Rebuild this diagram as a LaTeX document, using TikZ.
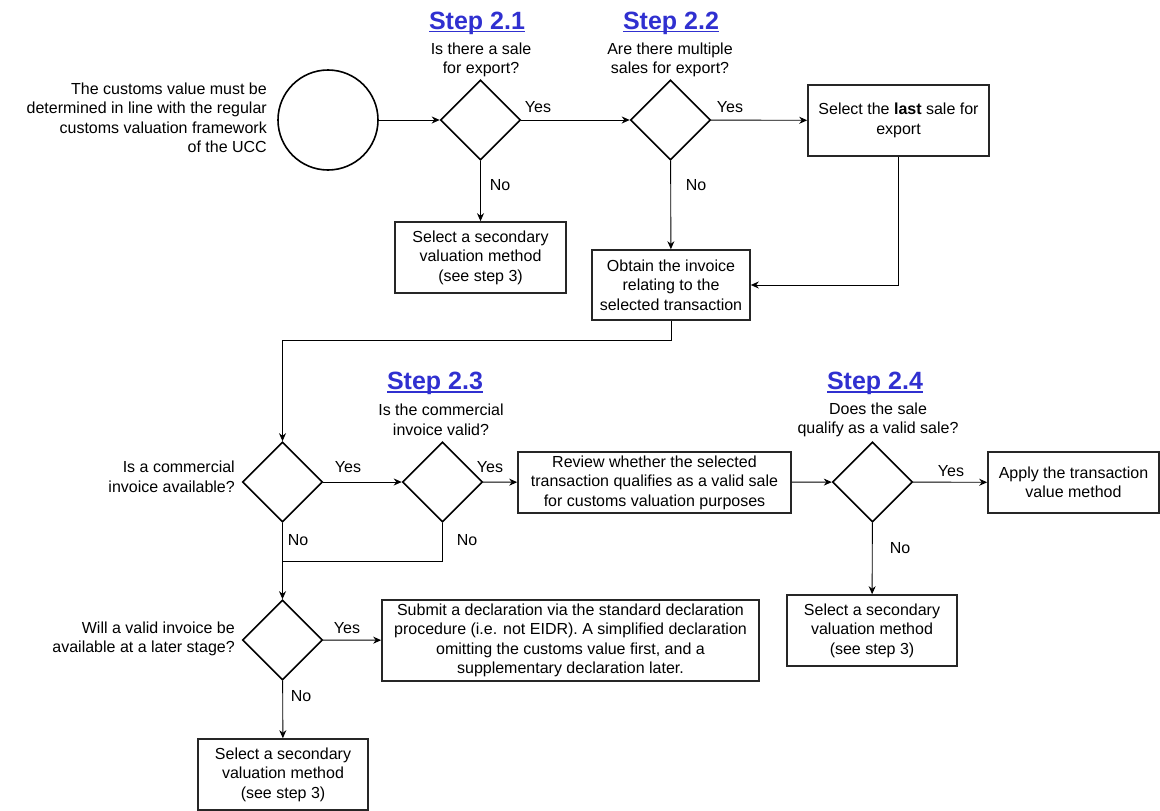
\documentclass[tikz,border=0pt]{standalone}
\usepackage{fontspec}
\setmainfont{Liberation Sans}
\usetikzlibrary{arrows.meta,shapes.geometric}
\definecolor{steplink}{RGB}{48,48,208}
\def\steplabel#1{\setbox0\hbox{#1}\rlap{\rule[-3.5pt]{\wd0}{1.8pt}}\box0}

\begin{document}
\begin{tikzpicture}[x=1pt, y=-1pt,
		txt/.style={font=\fontsize{16}{19.5}\selectfont, align=center, inner sep=1pt},
		steptitle/.style={font=\fontsize{25}{30}\selectfont\bfseries, text=steplink, anchor=base, inner sep=0pt},
		procbox/.style 2 args={txt, draw=black!85, line width=1.6pt, minimum width=#1, minimum height=#2},
		decision/.style={draw, diamond, line width=1.6pt, minimum width=80, minimum height=80, inner sep=0pt},
		flow/.style={-{Stealth[length=8pt,width=7pt]}, line width=0.9pt},
		plain/.style={line width=0.9pt}]
		%%%%% START %%%%%
		\useasboundingbox (0,0) rectangle (1160,811);
		
		\node[steptitle] (s21) at (477,29) {\steplabel{Step 2.1}};
		\node[steptitle] (s22) at (671,29) {\steplabel{Step 2.2}};
		\node[steptitle] (s23) at (435,389) {\steplabel{Step 2.3}};
		\node[steptitle] (s24) at (875,389) {\steplabel{Step 2.4}};
		
		\node[txt] (q21) at (481,60) {Is there a sale\\for export?};
		\node[txt] (q22) at (670,60) {Are there multiple\\sales for export?};
		\node[txt] (q23) at (441,420) {Is the commercial\\invoice valid?};
		\node[txt] (q24) at (878,420) {Does the sale\\qualify as a valid sale?};
		
		\node[txt, align=right, anchor=east] (intro) at (268,118) {The customs value must be\\determined in line with the regular\\customs valuation framework\\of the UCC};
		\node[draw, circle, line width=1.6pt, minimum size=100, inner sep=0pt] (start) at (328,120) {};
		
		\node[decision] (d1) at (480.5,120) {};
		\node[decision] (d2) at (670.5,120) {};
		\node[decision] (d3) at (282.5,482) {};
		\node[decision] (d4) at (442.5,482) {};
		\node[decision] (d5) at (872.5,482) {};
		\node[decision] (d6) at (282.5,640) {};
		
		\node[txt, align=right, anchor=east] (q3) at (236,477) {Is a commercial\\invoice available?};
		\node[txt, align=right, anchor=east] (q6) at (236,639) {Will a valid invoice be\\available at a later stage?};
		
		\node[procbox={181}{71}] (last) at (898.5,120.5) {Select the \textbf{last} sale for\\export};
		\node[procbox={171}{71}] (sec1) at (480.5,257.5) {Select a secondary\\valuation method\\(see step 3)};
		\node[procbox={158}{70}] (obtain) at (671,285) {Obtain the invoice\\relating to the\\selected transaction};
		\node[procbox={273}{61}] (review) at (654.5,482.5) {Review whether the selected\\transaction qualifies as a valid sale\\for customs valuation purposes};
		\node[procbox={171}{61}] (apply) at (1073.5,482.5) {Apply the transaction\\value method};
		\node[procbox={170}{71}] (sec2) at (872,630.5) {Select a secondary\\valuation method\\(see step 3)};
		\node[procbox={377}{81}] (submit) at (570.5,640.5) {Submit a declaration via the standard declaration\\procedure (i.e. not EIDR). A simplified declaration\\omitting the customs value first, and a\\supplementary declaration later.};
		\node[procbox={170}{71}] (sec3) at (283,774.5) {Select a secondary\\valuation method\\(see step 3)};
		
		% yes / no
		\node[txt] (y1) at (538,107) {Yes};
		\node[txt] (n1) at (500,185) {No};
		\node[txt] (y2) at (730,107) {Yes};
		\node[txt] (n2) at (696,185) {No};
		\node[txt] (y3) at (348,467) {Yes};
		\node[txt] (n3) at (298,540) {No};
		\node[txt] (y4) at (490,467) {Yes};
		\node[txt] (n4) at (467,540) {No};
		\node[txt] (y5) at (951,471) {Yes};
		\node[txt] (n5) at (900,548) {No};
		\node[txt] (y6) at (347,628) {Yes};
		\node[txt] (n6) at (301,696) {No};
		
		\coordinate (join) at (282.5,561);
		
		\draw[flow] (start) -- (d1);
		\draw[flow] (d1) -- (d2);
		\draw[flow] (d2) -- (last);
		\draw[flow] (d1) -- (sec1);
		\draw[flow] (d2) -- (obtain);
		\draw[flow] (last.south) |- (obtain.east);
		\draw[flow] (obtain.south) -- ++(0,20) -| (d3.north);
		\draw[flow] (d3) -- (d4);
		\draw[flow] (d4) -- (review);
		\draw[flow] (review) -- (d5);
		\draw[flow] (d5) -- (apply);
		\draw[flow] (d5) -- (sec2);
		\draw[plain] (d4.south) |- (join);
		\draw[flow] (d3) -- (d6);
		\draw[flow] (d6) -- (submit);
		\draw[flow] (d6) -- (sec3);
		%%%%% END %%%%%
	\end{tikzpicture}
\end{document}
